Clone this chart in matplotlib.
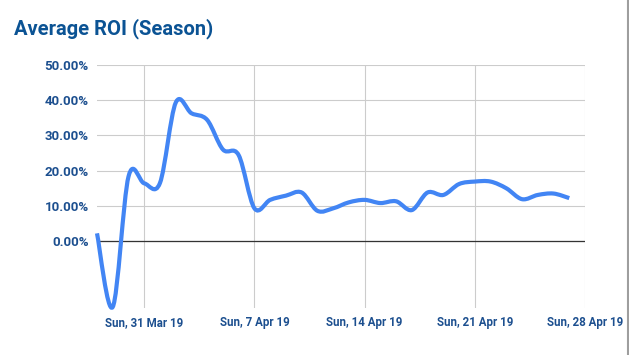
import numpy as np
import matplotlib
matplotlib.use('Agg')
import matplotlib.pyplot as plt
import matplotlib.dates as mdates
from matplotlib.path import Path
from matplotlib.patches import PathPatch
from matplotlib.lines import Line2D
import datetime as dt

# daily average ROI (%) from 28 Mar 19 to 27 Apr 19
start = dt.date(2019, 3, 28)
roi = [2.2, -18.7, 18.3, 16.4, 16.5, 39.3, 36.3, 34.4, 26.0, 24.4,
       9.3, 11.7, 12.9, 13.8, 8.6, 9.3, 11.0, 11.7, 10.8, 11.3,
       8.8, 13.8, 13.1, 16.2, 16.9, 16.9, 15.0, 11.9, 13.1, 13.5, 12.2]
days = [start + dt.timedelta(days=i) for i in range(len(roi))]
tick_days = [dt.date(2019, 3, 31), dt.date(2019, 4, 7), dt.date(2019, 4, 14),
             dt.date(2019, 4, 21), dt.date(2019, 4, 28)]
tick_labels = ['Sun, 31 Mar 19', 'Sun, 7 Apr 19', 'Sun, 14 Apr 19',
               'Sun, 21 Apr 19', 'Sun, 28 Apr 19']
y_ticks = [0, 10, 20, 30, 40, 50]

plt.rcParams['font.family'] = ['Roboto', 'DejaVu Sans']
label_col = '#1c4f8f'

fig = plt.figure(figsize=(6.29, 3.55), dpi=100)
ax = fig.add_axes([97 / 629, 1 - 308 / 355, 488 / 629, 243 / 355])

# smooth line (catmull-rom as cubic bezier segments)
x = mdates.date2num(days)
y = np.array(roi)
pts = np.column_stack([x, y])
ext = np.vstack([pts[0], pts, pts[-1]])
verts = [pts[0]]
codes = [Path.MOVETO]
for i in range(len(pts) - 1):
    p0, p1, p2, p3 = ext[i], ext[i + 1], ext[i + 2], ext[i + 3]
    verts += [p1 + (p2 - p0) / 6, p2 - (p3 - p1) / 6, p2]
    codes += [Path.CURVE4] * 3
ax.add_patch(PathPatch(Path(verts, codes), fill=False, edgecolor='#4285f4',
                       lw=3, capstyle='butt', joinstyle='round', clip_on=False, zorder=3))

ax.set_xlim(mdates.date2num(start), mdates.date2num(dt.date(2019, 4, 28)))
ax.set_ylim(-19, 50)
ax.set_yticks(y_ticks)
ax.set_yticklabels(['%.2f%%' % v for v in y_ticks])
ax.set_xticks(mdates.date2num(tick_days))
ax.set_xticklabels(tick_labels)

ax.grid(True, color='#cccccc', lw=0.8)
ax.axhline(0, color='#333333', lw=0.9, zorder=2)
for s in ax.spines.values():
    s.set_visible(False)
ax.tick_params(length=0, colors=label_col)
ax.tick_params(axis='y', pad=6, labelsize=9.5)
ax.tick_params(axis='x', pad=6, labelsize=8.3)
for t in ax.get_xticklabels() + ax.get_yticklabels():
    t.set_fontweight('bold')

fig.text(14 / 629, 1 - 34 / 355, 'Average ROI (Season)', fontsize=14.5,
         fontweight='bold', color='#0b5394')
fig.add_artist(Line2D([627.5 / 629] * 2, [0, 1], color='#9e9e9e', lw=1.5,
                      transform=fig.transFigure))

fig.savefig('out.png', dpi=100)
